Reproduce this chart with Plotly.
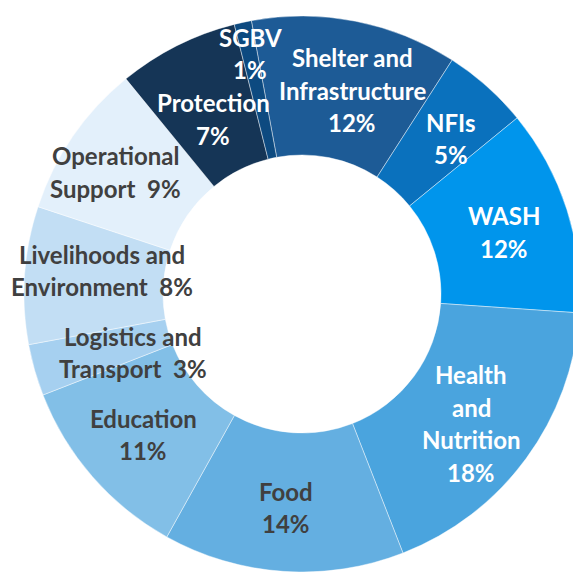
import math
import plotly.graph_objects as go

# ---- data ----
categories = ["Shelter and Infrastructure", "NFIs", "WASH", "Health and Nutrition", "Food",
              "Education", "Logistics and Transport", "Livelihoods and Environment",
              "Operational Support", "Protection", "SGBV"]
shares = [12, 5, 12, 18, 14, 11, 3, 8, 9, 7, 1]
label_lines = [
    ["Shelter and", "Infrastructure", "{p}%"],
    ["NFIs", "{p}%"],
    ["WASH", "{p}%"],
    ["Health", "and", "Nutrition", "{p}%"],
    ["Food", "{p}%"],
    ["Education", "{p}%"],
    ["Logistics and", "Transport\u00a0\u00a0{p}%"],
    ["Livelihoods and", "Environment\u00a0\u00a0{p}%"],
    ["Operational", "Support\u00a0\u00a0{p}%"],
    ["Protection", "{p}%"],
    ["SGBV", "{p}%"],
]

# ---- style ----
colors = ["#1D5B96", "#0A71BD", "#0095EC", "#4AA4DE", "#64AFE1", "#82BFE7",
          "#A6D0F0", "#C2DEF4", "#E3F0FB", "#153556", "#0D4A80"]
text_colors = ["white", "white", "white", "white", "#404040", "#404040",
               "#404040", "#404040", "#404040", "white", "white"]
# label placement tweaks: (angle offset in degrees, radius in px)
label_dtheta = [2.8, 2.0, 0.6, 1.1, 0.5, -0.4, -3.2, 2.8, -1.3, -0.2, 0.2]
label_radius = [210, 215, 211, 213, 214, 212, 179, 201, 223, 196, 246]

# page body has an 8px margin, so the figure is sized to fill the rest of the window
W, H = 573, 564
ML, MR, MT, MB = 16, 1, 8, 0
ROT = -10.5
FONT = "Lato"
FSIZE = 24
LINE_GAP = 32.5

fig = go.Figure(go.Pie(
    labels=categories, values=shares, sort=False, direction="clockwise",
    rotation=ROT, hole=0.5, textinfo="none", hoverinfo="label+percent",
    marker=dict(colors=colors, line=dict(color="rgba(255,255,255,0.55)", width=0.8)),
    showlegend=False,
))

pw, ph = W - ML - MR, H - MT - MB
cx, cy = ML + pw / 2, MT + ph / 2
total = sum(shares)
cum = 0
annotations = []
for i, v in enumerate(shares):
    mid = ROT + 360 * (cum + v / 2) / total + label_dtheta[i]
    cum += v
    a = math.radians(mid)
    lx = cx + label_radius[i] * math.sin(a)
    ly = cy - label_radius[i] * math.cos(a)
    lines = [s.format(p=v) for s in label_lines[i]]
    n = len(lines)
    for j, s in enumerate(lines):
        py = ly + (j - (n - 1) / 2) * LINE_GAP
        annotations.append(dict(
            x=(lx - ML) / pw, y=(H - MB - py) / ph, xref="paper", yref="paper",
            text="<b>" + s + "</b>", showarrow=False, xanchor="center", yanchor="middle",
            font=dict(family=FONT, size=FSIZE, color=text_colors[i]),
        ))

fig.update_layout(
    width=W, height=H, margin=dict(l=ML, r=MR, t=MT, b=MB),
    paper_bgcolor="white", plot_bgcolor="white", annotations=annotations,
)
fig.write_html("out.html")
